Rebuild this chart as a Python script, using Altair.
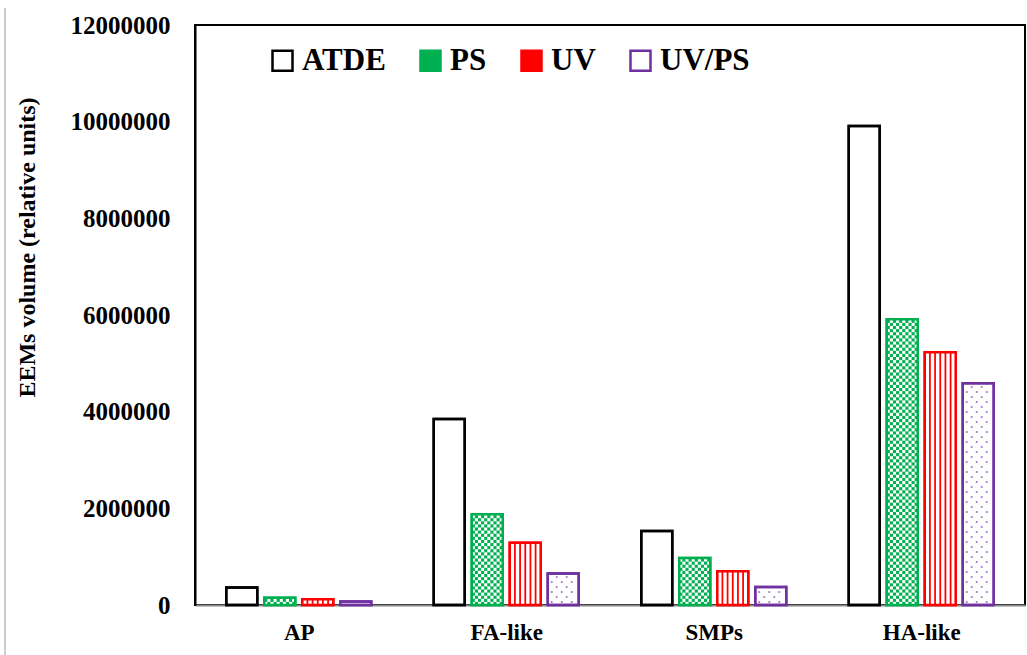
import math
import altair as alt
import pandas as pd

# ---- data ----
categories = ["AP", "FA-like", "SMPs", "HA-like"]
series = ["ATDE", "PS", "UV", "UV/PS"]
atde = [360000, 3850000, 1530000, 9910000]
ps = [150000, 1880000, 970000, 5910000]
uv = [120000, 1290000, 700000, 5230000]
uvps = [75000, 650000, 370000, 4590000]
y_ticks = [0, 2000000, 4000000, 6000000, 8000000, 10000000, 12000000]

stroke_colors = ["#000000", "#00b050", "#ff0000", "#7030a0"]
fill_colors = ["#ffffff", "#00b050", "#ff0000", "#ffffff"]

# ---- layout helpers ----
W, H = 830, 580
YMAX = y_ticks[-1]
px_x = len(categories) / W
px_y = YMAX / H
step = 38 * px_x
half = 15.5 * px_x

rows = []
for i, c in enumerate(categories):
    for j, (s, vals) in enumerate(zip(series, [atde, ps, uv, uvps])):
        xc = i + 0.5 + (j - 1.5) * step
        rows.append(dict(category=c, series=s, value=vals[i],
                         x0=xc - half, x1=xc + half, zero=0))
bars = pd.DataFrame(rows)

# checker pattern (white squares over green) for PS
chk = []
for r in bars[bars.series == "PS"].itertuples():
    cw = (r.x1 - r.x0) / 10
    ch = 3.1 * px_y
    nrow = math.ceil(r.value / ch)
    for a in range(nrow):
        for b in range(10):
            if (a + b) % 2 == 0:
                chk.append(dict(x0=r.x0 + b * cw, x1=r.x0 + (b + 1) * cw,
                                value=min((a + 1) * ch, r.value), zero=a * ch))
chk = pd.DataFrame(chk)

# vertical stripes (white gaps over red) for UV
stp = []
for r in bars[bars.series == "UV"].itertuples():
    w = (r.x1 - r.x0) / 6
    for k in range(6):
        stp.append(dict(x0=r.x0 + (k + 0.5) * w, value=r.value, zero=0))
stp = pd.DataFrame(stp)

# dots for UV/PS
dts = []
for r in bars[bars.series == "UV/PS"].itertuples():
    a = 0
    while (a + 0.6) * 5 * px_y < r.value - 2 * px_y:
        y = (a + 0.6) * 5 * px_y
        x = r.x0 + (4 + (5 if a % 2 else 0)) * px_x
        while x < r.x1 - 3 * px_x:
            dts.append(dict(x0=x, value=y))
            x += 10 * px_x
        a += 1
dts = pd.DataFrame(dts)

FONT = "Liberation Serif"
label_expr = "[" + ",".join("'%s'" % c for c in categories) + "][floor(datum.value)]"


def xenc():
    return alt.X("x0:Q", scale=alt.Scale(domain=[0, len(categories)], nice=False, zero=False),
                 axis=alt.Axis(values=[i + 0.5 for i in range(len(categories))],
                               labelExpr=label_expr, ticks=False, grid=False,
                               domainColor="#888888", domainWidth=2,
                               labelFont=FONT, labelFontSize=23, labelFontWeight="bold",
                               labelColor="black", labelPadding=16, title=None))


def yenc():
    return alt.Y("value:Q", scale=alt.Scale(domain=[0, YMAX], nice=False),
                 axis=alt.Axis(values=y_ticks, format="d", ticks=False, grid=False,
                               domainColor="black", domainWidth=2,
                               labelFont=FONT, labelFontSize=25, labelFontWeight="bold",
                               labelColor="black", labelPadding=25,
                               title="EEMs volume (relative units)",
                               titleFont=FONT, titleFontSize=24, titleFontWeight="bold",
                               titleColor="black", titleX=-168, titleY=222,
                               titleAngle=-90, titleAlign="center", titleBaseline="middle"))


legend = alt.Legend(title=None, orient="none", legendX=72, legendY=20, direction="horizontal",
                    symbolType="square", symbolSize=400, symbolStrokeWidth=2.5,
                    labelFont=FONT, labelFontSize=31, labelFontWeight="bold",
                    labelColor="black", columnPadding=29, labelOffset=4, padding=0)

base_bars = alt.Chart(bars).mark_rect(strokeWidth=2.5).encode(
    x=xenc(), x2="x1:Q", y=yenc(), y2="zero:Q",
    fill=alt.Fill("series:N", scale=alt.Scale(domain=series, range=fill_colors), legend=legend),
    stroke=alt.Stroke("series:N", scale=alt.Scale(domain=series, range=stroke_colors), legend=legend),
)

checker = alt.Chart(chk).mark_rect(color="white").encode(
    x=xenc(), x2="x1:Q", y=yenc(), y2="zero:Q")

stripes = alt.Chart(stp).mark_rule(color="white", strokeWidth=3.4).encode(
    x=xenc(), y=yenc(), y2="zero:Q")

dots = alt.Chart(dts).mark_point(filled=True, size=5, color="#9a6bc8", opacity=0.9).encode(
    x=xenc(), y=yenc())

outline = alt.Chart(bars).mark_rect(strokeWidth=2.5, fillOpacity=0).encode(
    x=xenc(), x2="x1:Q", y=yenc(), y2="zero:Q",
    stroke=alt.Stroke("series:N", scale=alt.Scale(domain=series, range=stroke_colors), legend=None),
)

frame = alt.Chart(bars).mark_rule(color="#cccccc", strokeWidth=2).encode(
    x=alt.value(-190), y=alt.value(-17), y2=alt.value(630))

chart = alt.layer(base_bars, checker, stripes, dots, outline, frame).properties(
    width=W, height=H,
    padding={"left": 195, "top": 25, "right": 2, "bottom": 50},
    autosize=alt.AutoSizeParams(type="none"),
    background="white",
).configure_view(stroke="black", strokeWidth=2)

chart.save("out.html", embed_options={"renderer": "svg", "actions": False})
